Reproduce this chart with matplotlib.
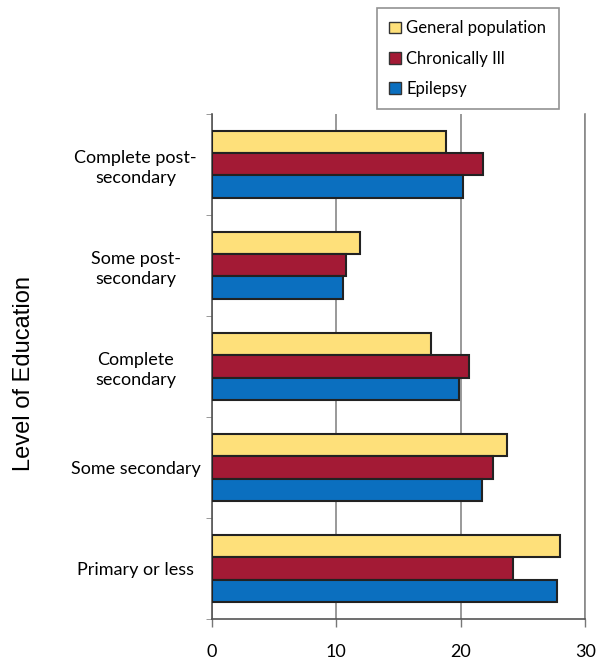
import numpy as np
import matplotlib.pyplot as plt
from matplotlib.patches import Patch

plt.rcParams['font.family'] = ['Lato', 'DejaVu Sans']

# categories from bottom to top
levels = ['Primary or less', 'Some secondary', 'Complete\nsecondary',
          'Some post-\nsecondary', 'Complete post-\nsecondary']
general = [28.0, 23.7, 17.6, 11.9, 18.8]
chronic = [24.2, 22.6, 20.7, 10.8, 21.8]
epilepsy = [27.7, 21.7, 19.9, 10.5, 20.2]
xticks = [0, 10, 20, 30]

fig = plt.figure(figsize=(6.02, 6.65), dpi=100)
ax = fig.add_axes([0.352, 0.069, 0.62, 0.76])

y = np.arange(len(levels))
h = 0.22
ax.barh(y + h, general, h, color='#FEE07A', edgecolor='#222222', linewidth=1.5, zorder=3)
ax.barh(y, chronic, h, color='#A31A35', edgecolor='#222222', linewidth=1.5, zorder=3)
ax.barh(y - h, epilepsy, h, color='#0B6FBF', edgecolor='#222222', linewidth=1.5, zorder=3)

ax.set_xlim(0, 30)
ax.set_ylim(-0.5, len(levels) - 0.5)
ax.set_xticks(xticks)
ax.set_xticklabels([str(v) for v in xticks], fontsize=13)
ax.tick_params(axis='x', length=6, width=1, color='#777777', pad=12)
ax.set_yticks(y)
ax.set_yticklabels(levels, fontsize=13, ha='center', linespacing=1.3)
ax.tick_params(axis='y', length=0, pad=55)
ax.set_yticks(np.arange(len(levels) + 1) - 0.5, minor=True)
ax.tick_params(axis='y', which='minor', length=4, color='#888888')

ax.grid(axis='x', color='#888888', linewidth=1.2, zorder=0)
ax.spines['top'].set_visible(False)
ax.spines['right'].set_color('#888888')
ax.spines['right'].set_linewidth(1.2)
ax.spines['left'].set_color('#555555')
ax.spines['bottom'].set_color('#555555')
ax.spines['left'].set_linewidth(1.2)
ax.spines['bottom'].set_linewidth(1.2)

ax.set_ylabel('Level of Education', fontsize=17, family=['Liberation Sans', 'DejaVu Sans'])
ax.yaxis.set_label_coords(-0.474, 0.485)

handles = [Patch(facecolor='#FEE07A', edgecolor='#333333'),
           Patch(facecolor='#A31A35', edgecolor='#333333'),
           Patch(facecolor='#0B6FBF', edgecolor='#333333')]
leg = fig.legend(handles, ['General population', 'Chronically Ill', 'Epilepsy'],
                 loc='upper left', bbox_to_anchor=(0.626, 0.988), fontsize=12,
                 handlelength=0.7, handleheight=0.7, handletextpad=0.3,
                 labelspacing=0.85, borderpad=0.75, borderaxespad=0,
                 fancybox=False, frameon=True)
leg.get_frame().set_edgecolor('#777777')
leg.get_frame().set_linewidth(1.2)

fig.savefig('out.png', dpi=100)
